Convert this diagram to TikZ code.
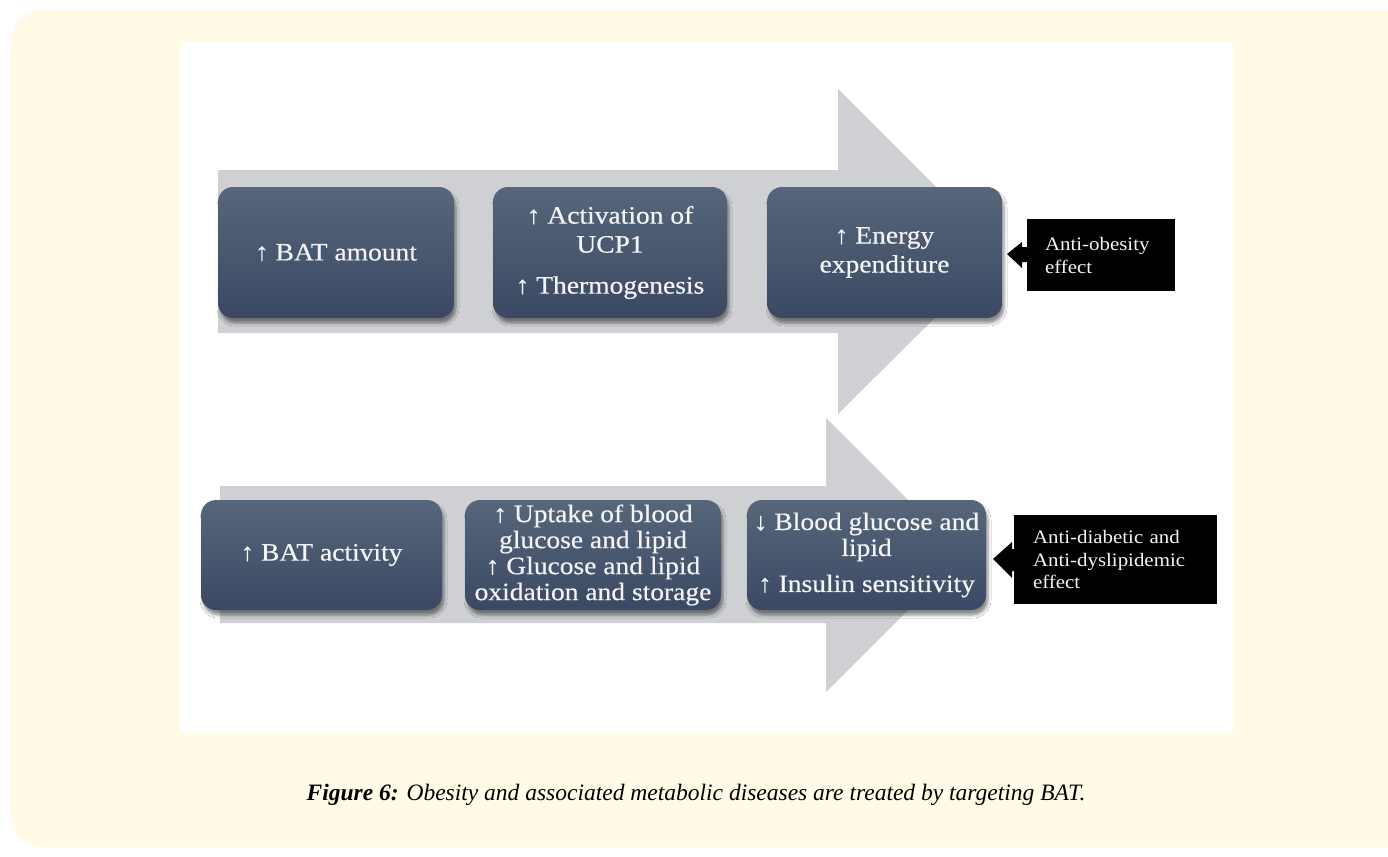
\documentclass[tikz,border=0pt]{standalone}
\usepackage{fontspec}
\setmainfont{Liberation Serif}[FakeStretch=1.1]
\newfontfamily\capfont{Liberation Serif}
\newfontfamily\boxfont{Liberation Serif}[FakeStretch=1.1, FakeBold=0.4]
\usetikzlibrary{shadows.blur}
\definecolor{cream}{HTML}{FFFBE7}
\definecolor{arrowgray}{HTML}{CFD0D4}
\definecolor{boxtop}{HTML}{58667B}
\definecolor{boxbot}{HTML}{3A4863}
\definecolor{boxtext}{HTML}{F4F4F6}
\tikzset{
  bigarrow/.style={fill=arrowgray, draw=none},
  stepbox/.style={rectangle, rounded corners=15pt, top color=boxtop, bottom color=boxbot,
    draw=none, text=boxtext, align=center, inner sep=0pt,
    blur shadow={shadow xshift=2pt, shadow yshift=-5pt, shadow blur radius=3pt, shadow opacity=45},
    font=\boxfont\fontsize{25}{29}\selectfont},
  smallbox/.style={stepbox, font=\boxfont\fontsize{25}{26}\selectfont},
  callout/.style={rectangle, fill=black, draw=none, text=boxtext, align=left,
    font=\fontsize{19}{23}\selectfont, anchor=center},
  calloutarrow/.style={fill=black, draw=none},
}
\begin{document}
\begin{tikzpicture}[x=1pt, y=-1pt]
\useasboundingbox (0,0) rectangle (1388,856);
% backgrounds
\fill[cream, rounded corners=30pt] (11,10) rectangle (1420,847);
\fill[white] (180,42) rectangle (1233,733);
% big gray arrows
\fill[bigarrow] (218,170) -- (838,170) -- (838,89) -- (1001,252) -- (838,414) -- (838,333) -- (218,333) -- cycle;
\fill[bigarrow] (220,486) -- (826,486) -- (826,418) -- (963,555) -- (826,692) -- (826,623) -- (220,623) -- cycle;
% top row
\node[stepbox, minimum width=236pt, minimum height=131pt] (a1) at (336,252.5) {↑ BAT amount};
\node[stepbox, minimum width=234pt, minimum height=131pt] (a2) at (610,252.5) {↑ Activation of\\UCP1\\[12pt]↑ Thermogenesis};
\node[stepbox, minimum width=235pt, minimum height=131pt] (a3) at (884.5,252.5) {↑ Energy\\expenditure};
% top callout
\node[callout, minimum width=148pt, minimum height=72pt, text width=112pt, inner xsep=18pt, inner ysep=0pt] (c1) at (1101,255) {Anti-obesity\\effect};
\fill[calloutarrow] (1028,247) -- (1022,247) -- (1022,242) -- (1007,254) -- (1022,268) -- (1022,262) -- (1028,262) -- cycle;
% bottom row
\node[smallbox, minimum width=241pt, minimum height=110pt] (b1) at (321.5,555) {↑ BAT activity};
\node[smallbox, minimum width=256pt, minimum height=110pt] (b2) at (593,555) {↑ Uptake of blood\\glucose and lipid\\↑ Glucose and lipid\\oxidation and storage};
\node[smallbox, minimum width=239pt, minimum height=110pt] (b3) at (866.5,555) {↓ Blood glucose and\\lipid\\[10pt]↑ Insulin sensitivity};
% bottom callout
\node[callout, font=\fontsize{19}{22.5}\selectfont, minimum width=203pt, minimum height=89pt, text width=165pt, inner xsep=19pt, inner ysep=0pt] (c2) at (1115.5,559.5) {Anti-diabetic and\\Anti-dyslipidemic\\effect};
\fill[calloutarrow] (1015,549) -- (1012,549) -- (1012,542) -- (993,559) -- (1012,578) -- (1012,571) -- (1015,571) -- cycle;
% caption
\node[font=\capfont\fontsize{23.5}{27}\selectfont, text=black, inner sep=0pt] (cap) at (696,795) {\textbf{\textit{Figure 6:}} \textit{Obesity and associated metabolic diseases are treated by targeting BAT.}};
\end{tikzpicture}
\end{document}
